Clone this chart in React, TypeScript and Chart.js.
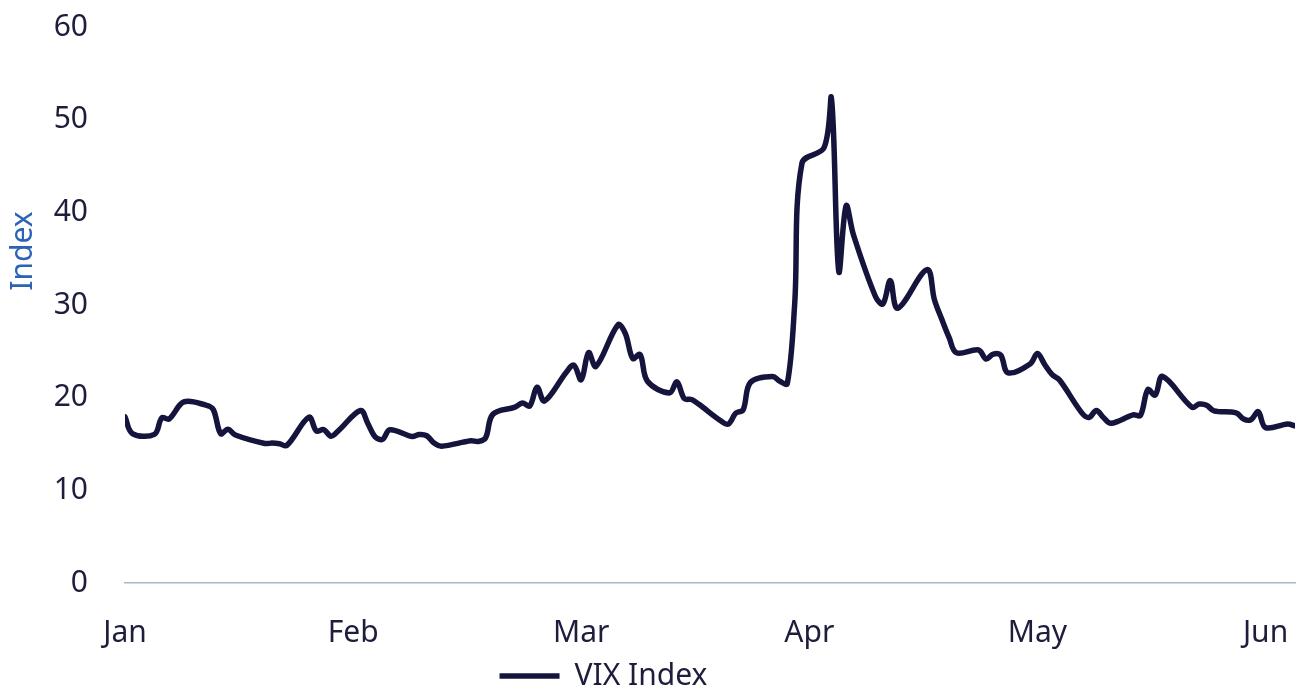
import React, { useEffect, useRef } from "react";
import { Chart, registerables } from "chart.js";

Chart.register(...registerables);

// Trading days (2025) and VIX closes
const dates: string[] = [
  "2025-01-02","2025-01-03","2025-01-06","2025-01-07","2025-01-08","2025-01-10","2025-01-13","2025-01-14","2025-01-15","2025-01-16","2025-01-17","2025-01-21","2025-01-22","2025-01-23","2025-01-24","2025-01-27","2025-01-28","2025-01-29","2025-01-30","2025-01-31",
  "2025-02-03","2025-02-04","2025-02-05","2025-02-06","2025-02-07","2025-02-10","2025-02-11","2025-02-12","2025-02-13","2025-02-14","2025-02-18","2025-02-19","2025-02-20","2025-02-21","2025-02-24","2025-02-25","2025-02-26","2025-02-27","2025-02-28",
  "2025-03-03","2025-03-04","2025-03-05","2025-03-06","2025-03-07","2025-03-10","2025-03-11","2025-03-12","2025-03-13","2025-03-14","2025-03-17","2025-03-18","2025-03-19","2025-03-20","2025-03-21","2025-03-24","2025-03-25","2025-03-26","2025-03-27","2025-03-28","2025-03-31",
  "2025-04-01","2025-04-02","2025-04-03","2025-04-04","2025-04-07","2025-04-08","2025-04-09","2025-04-10","2025-04-11","2025-04-14","2025-04-15","2025-04-16","2025-04-17","2025-04-21","2025-04-22","2025-04-23","2025-04-24","2025-04-25","2025-04-28","2025-04-29","2025-04-30",
  "2025-05-01","2025-05-02","2025-05-05","2025-05-06","2025-05-07","2025-05-08","2025-05-09","2025-05-12","2025-05-13","2025-05-14","2025-05-15","2025-05-16","2025-05-19","2025-05-20","2025-05-21","2025-05-22","2025-05-23","2025-05-27","2025-05-28","2025-05-29","2025-05-30",
  "2025-06-02","2025-06-03","2025-06-04","2025-06-05","2025-06-06","2025-06-09","2025-06-10",
];

const vix: number[] = [
  17.93,16.13,16.04,17.82,17.70,19.54,19.19,18.71,16.12,16.60,15.97,15.06,15.10,15.02,14.85,17.90,16.41,16.56,15.84,16.43,
  18.62,17.21,15.77,15.50,16.54,15.81,16.02,15.89,15.10,14.77,15.35,15.27,15.66,18.21,18.98,19.43,19.10,21.13,19.63,
  22.78,23.51,21.93,24.87,23.37,27.86,26.92,24.23,24.66,21.77,20.51,21.70,19.90,19.80,19.28,17.48,17.15,18.33,18.69,21.65,22.28,
  21.77,21.51,30.02,45.31,46.98,52.33,33.62,40.72,37.56,30.89,30.12,32.64,29.65,33.82,30.57,28.45,26.47,24.84,25.15,24.17,24.70,
  24.60,22.68,23.64,24.76,23.55,22.48,21.90,18.39,17.86,18.62,17.83,17.24,18.14,18.09,20.87,20.28,22.29,18.96,19.31,19.18,18.57,
  18.36,17.69,17.61,18.48,16.77,17.16,16.95,
];

const tickLabels: string[] = ["Jan", "Feb", "Mar", "Apr", "May", "Jun"];
const tickIntervalDays = 31;
const yTicks: number[] = [0, 10, 20, 30, 40, 50, 60];

const DAY = 86400000;
const t0 = Date.parse(dates[0] + "T00:00:00Z");
const dayOffset = (d: string) => Math.round((Date.parse(d + "T00:00:00Z") - t0) / DAY);

const FONT = "'Noto Sans', sans-serif";
const FS = 30;
const NAVY = "#14143c";
const TEXT = "#1e1e3c";
const BLUE = "#2c64b4";

export default function App() {
  const ref = useRef<HTMLCanvasElement | null>(null);

  useEffect(() => {
    if (!ref.current) return;
    const points = dates.map((d, i) => ({ x: dayOffset(d), y: vix[i] }));
    const lastDay = dayOffset(dates[dates.length - 1]);

    const yTitlePlugin = {
      id: "yTitle",
      afterLayout(chart: any) {
        const lg = chart.legend;
        if (lg) {
          lg.left -= 44;
          lg.right -= 44;
        }
      },
      afterDraw(chart: any) {
        const { ctx, chartArea } = chart;
        ctx.save();
        ctx.font = `${FS}px ${FONT}`;
        ctx.fillStyle = BLUE;
        ctx.textAlign = "center";
        ctx.textBaseline = "middle";
        ctx.translate(23, chartArea.top + (chartArea.bottom - chartArea.top) * 0.403);
        ctx.rotate(-Math.PI / 2);
        ctx.fillText("Index", 0, 0);
        ctx.restore();
      },
    };

    const chart = new Chart(ref.current, {
      type: "line",
      data: {
        datasets: [
          {
            label: "VIX Index",
            data: points,
            borderColor: NAVY,
            backgroundColor: NAVY,
            borderWidth: 5.5,
            pointRadius: 0,
            pointHoverRadius: 0,
            tension: 0.35,
            fill: false,
            borderCapStyle: "round",
            borderJoinStyle: "round",
          } as any,
        ],
      },
      options: {
        animation: false,
        responsive: true,
        maintainAspectRatio: false,
        layout: { padding: { left: 0, right: 9, top: 27, bottom: -10 } },
        plugins: {
          tooltip: { enabled: false },
          legend: {
            position: "bottom",
            labels: {
              usePointStyle: true,
              pointStyle: "line",
              pointStyleWidth: 60,
              padding: 6,
              color: TEXT,
              font: { family: FONT, size: FS },
            },
          },
        },
        scales: {
          x: {
            type: "linear",
            min: 0,
            max: lastDay,
            grid: { display: false, drawTicks: true, tickLength: 32 },
            border: { display: true, color: "#a9b7c9", width: 1.5 },
            afterBuildTicks: (scale: any) => {
              scale.ticks = tickLabels.map((_, i) => ({ value: i * tickIntervalDays }));
            },
            afterFit: (scale: any) => {
              scale.height = 72;
            },
            ticks: {
              autoSkip: false,
              maxRotation: 0,
              padding: 0,
              color: TEXT,
              font: { family: FONT, size: FS },
              callback: (v: any) => tickLabels[Math.round(Number(v) / tickIntervalDays)] ?? "",
            },
          },
          y: {
            min: 0,
            max: 60,
            grid: { display: false, drawTicks: true, tickLength: 37 },
            border: { display: false },
            afterBuildTicks: (scale: any) => {
              scale.ticks = yTicks.map((v) => ({ value: v }));
            },
            afterFit: (scale: any) => {
              scale.width = 125;
            },
            ticks: {
              padding: 0,
              color: TEXT,
              font: { family: FONT, size: FS },
            },
          },
        },
      },
      plugins: [yTitlePlugin],
    });
    return () => chart.destroy();
  }, []);

  return (
    <div style={{ position: "fixed", left: 0, top: 0, width: 1304, height: 691, background: "#fff" }}>
      <canvas ref={ref} />
    </div>
  );
}
